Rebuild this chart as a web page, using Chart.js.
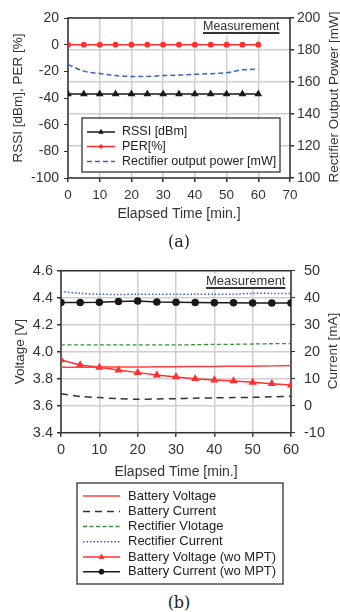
<!DOCTYPE html>
<html>
<head>
    <title>Measurement charts</title>
    <style>
        body { margin: 0; width: 340px; height: 612px; position: relative; overflow: hidden; background: #fff; font-family: 'Liberation Sans', Arial, sans-serif; }
        canvas { position: absolute; left: 0; }
        #chartA { top: 0; }
        #chartB { top: 250px; }
        .meas { position: absolute; background: #fff; color: #333; white-space: nowrap; line-height: 1;
                text-decoration: underline; text-decoration-thickness: 1.5px; text-underline-offset: 2px; padding: 0 1px 2px 1px; }
        .rtitle { position: absolute; color: #333; font-size: 13.5px; white-space: nowrap; transform: translate(-50%, -50%) rotate(-90deg); line-height: 1; }
        .cap { position: absolute; left: 0; width: 358px; text-align: center; font-family: 'DejaVu Serif', serif; font-size: 16px; color: #222; line-height: 1; }
    </style>
</head>
<body>
<canvas id="chartA" width="340" height="230"></canvas>
<canvas id="chartB" width="340" height="340"></canvas>

<span class="meas" style="left:202px; top:20px; font-size:12.5px;">Measurement</span>
<span class="meas" style="left:205px; top:274px; font-size:13px;">Measurement</span>
<div class="rtitle" style="left:334px; top:97px;">Rectifier Output Power [mW]</div>
<div class="rtitle" style="left:333px; top:351px;">Current [mA]</div>
<div class="cap" style="top:234px;">(a)</div>
<div class="cap" style="top:595px;">(b)</div>

<script src="https://cdn.jsdelivr.net/npm/chart.js"></script>
<script>
    // (a) RSSI / PER / rectifier power
    const timeA = [0, 5, 10, 15, 20, 25, 30, 35, 40, 45, 50, 55, 60];
    const rssi = [-37, -37, -37, -37, -37, -37, -37, -37, -37, -37, -37, -37, -37];
    const per = [0, 0, 0, 0, 0, 0, 0, 0, 0, 0, 0, 0, 0];
    const rectPower = [171, 166.8, 165.3, 164, 163.5, 163.5, 164, 164.3, 164.8, 165.2, 165.8, 167.6, 168];
    const ticksA = {xMax: 70, xStep: 10, yMin: -100, yMax: 20, yStep: 20, y2Min: 100, y2Max: 200, y2Step: 20};

    // (b) voltages / currents
    const timeB = [0, 5, 10, 15, 20, 25, 30, 35, 40, 45, 50, 55, 60];
    const battVolt = [3.885, 3.885, 3.886, 3.886, 3.887, 3.888, 3.889, 3.89, 3.891, 3.892, 3.893, 3.895, 3.897];
    const battCurr = [4.4, 3.4, 3.0, 2.6, 2.4, 2.5, 2.6, 2.8, 2.9, 3.0, 3.1, 3.3, 3.5];
    const rectVolt = [4.05, 4.05, 4.05, 4.05, 4.05, 4.05, 4.05, 4.052, 4.054, 4.055, 4.057, 4.059, 4.06];
    const rectCurr = [42.3, 41.6, 41.3, 41.2, 41.3, 41.3, 41.3, 41.3, 41.3, 41.3, 41.6, 41.6, 41.6];
    const battVoltWo = [3.939, 3.901, 3.884, 3.864, 3.845, 3.827, 3.813, 3.80, 3.79, 3.783, 3.773, 3.763, 3.753];
    const battCurrWo = [38.2, 38.2, 38.3, 38.6, 38.8, 38.4, 38.3, 38.2, 38.1, 38.1, 38.0, 38.0, 38.0];
    const ticksB = {xMax: 60, xStep: 10, yMin: 3.4, yMax: 4.6, yStep: 0.2, y2Min: -10, y2Max: 50, y2Step: 10};

    Chart.defaults.font.family = "'Liberation Sans', Arial, sans-serif";
    Chart.defaults.color = '#333';

    const pts = (xs, ys) => xs.map((x, i) => ({x: x, y: ys[i]}));
    const gridGray = '#cfcfcf';
    const txt = '#333';

    const framePlugin = {
        id: 'frame',
        beforeDatasetsDraw(chart) {
            const a = chart.chartArea;
            const ctx = chart.ctx;
            ctx.save();
            ctx.strokeStyle = '#333';
            ctx.lineWidth = 1.5;
            ctx.strokeRect(a.left, a.top, a.right - a.left, a.bottom - a.top);
            ctx.restore();
        }
    };

    const boxLegend = {
        id: 'boxLegend',
        afterDraw(chart, args, o) {
            const ctx = chart.ctx;
            ctx.save();
            ctx.fillStyle = '#fff';
            ctx.fillRect(o.left, o.top, o.width, o.height);
            ctx.strokeStyle = '#333';
            ctx.lineWidth = 1.3;
            ctx.strokeRect(o.left, o.top, o.width, o.height);
            chart.data.datasets.forEach((ds, i) => {
                const y = o.rows[i];
                ctx.setLineDash(ds.borderDash || []);
                ctx.strokeStyle = ds.borderColor;
                ctx.lineWidth = ds.borderWidth;
                ctx.beginPath();
                ctx.moveTo(o.lineStart, y);
                ctx.lineTo(o.lineEnd, y);
                ctx.stroke();
                ctx.setLineDash([]);
                if (ds.pointRadius > 0) {
                    ctx.fillStyle = ds.pointBackgroundColor;
                    ctx.strokeStyle = ds.pointBorderColor;
                    ctx.lineWidth = 1;
                    Chart.helpers.drawPoint(ctx, {pointStyle: ds.pointStyle, radius: ds.pointRadius - 0.5, borderWidth: 1, rotation: 0},
                        (o.lineStart + o.lineEnd) / 2, y);
                }
                ctx.fillStyle = '#222';
                ctx.font = o.font;
                ctx.textAlign = 'left';
                ctx.textBaseline = 'middle';
                ctx.fillText(ds.label, o.textX, y);
            });
            ctx.restore();
        }
    };

    new Chart(document.getElementById('chartA'), {
        type: 'line',
        data: {
            datasets: [
                {
                    label: 'RSSI [dBm]', data: pts(timeA, rssi), yAxisID: 'y',
                    borderColor: '#1a1a1a', backgroundColor: '#1a1a1a', borderWidth: 1.5,
                    pointStyle: 'triangle', pointRadius: 3, pointBackgroundColor: '#1a1a1a', pointBorderColor: '#1a1a1a'
                },
                {
                    label: 'PER[%]', data: pts(timeA, per), yAxisID: 'y',
                    borderColor: '#ff3030', backgroundColor: '#ff3030', borderWidth: 1.5,
                    pointStyle: 'circle', pointRadius: 2.2, pointBackgroundColor: '#ff3030', pointBorderColor: '#ff3030'
                },
                {
                    label: 'Rectifier output power [mW]', data: pts(timeA, rectPower), yAxisID: 'y2',
                    borderColor: '#3d63b8', backgroundColor: '#3d63b8', borderWidth: 1.5, borderDash: [5, 3],
                    pointRadius: 0, tension: 0.4, cubicInterpolationMode: 'monotone'
                }
            ]
        },
        options: {
            responsive: false, animation: false, devicePixelRatio: 1,
            layout: {padding: {top: 18, left: 0, right: 0, bottom: 0}},
            plugins: {
                legend: {display: false},
                tooltip: {enabled: false},
                boxLegend: {
                    left: 82, top: 118, width: 198, height: 54,
                    rows: [132, 146.5, 161.5], lineStart: 87, lineEnd: 115, textX: 122,
                    font: "12.5px 'Liberation Sans', Arial, sans-serif"
                }
            },
            scales: {
                x: {
                    type: 'linear', min: 0, max: ticksA.xMax,
                    ticks: {stepSize: ticksA.xStep, font: {size: 13.5}, color: txt, padding: 5},
                    grid: {color: gridGray, lineWidth: 1.5, tickColor: '#333', tickLength: 4},
                    border: {display: false},
                    title: {display: true, text: 'Elapsed Time [min.]', font: {size: 14}, color: txt, padding: {top: 0, bottom: 7.6}},
                    afterFit: s => { s.height = 52; }
                },
                y: {
                    position: 'left', min: ticksA.yMin, max: ticksA.yMax,
                    ticks: {stepSize: ticksA.yStep, font: {size: 14}, color: txt, padding: 5},
                    grid: {drawOnChartArea: false, tickColor: '#333', tickLength: 4},
                    border: {display: false},
                    title: {display: true, text: 'RSSI [dBm], PER [%]', font: {size: 13.5}, color: txt, padding: {top: 10, bottom: 0}},
                    afterFit: s => { s.width = 68; }
                },
                y2: {
                    position: 'right', min: ticksA.y2Min, max: ticksA.y2Max,
                    ticks: {stepSize: ticksA.y2Step, font: {size: 14}, color: txt, padding: 3},
                    grid: {color: gridGray, lineWidth: 1.5, tickColor: '#333', tickLength: 4},
                    border: {display: false},
                    afterFit: s => { s.width = 50; }
                }
            }
        },
        plugins: [framePlugin, boxLegend]
    });

    new Chart(document.getElementById('chartB'), {
        type: 'line',
        data: {
            datasets: [
                {
                    label: 'Battery Voltage', data: pts(timeB, battVolt), yAxisID: 'y',
                    borderColor: '#ff4040', backgroundColor: '#ff4040', borderWidth: 1.5, pointRadius: 0, tension: 0.3
                },
                {
                    label: 'Battery Current', data: pts(timeB, battCurr), yAxisID: 'y2',
                    borderColor: '#333', backgroundColor: '#333', borderWidth: 1.5, borderDash: [7, 5], pointRadius: 0, tension: 0.3
                },
                {
                    label: 'Rectifier Vlotage', data: pts(timeB, rectVolt), yAxisID: 'y',
                    borderColor: '#3a8f3a', backgroundColor: '#3a8f3a', borderWidth: 1.3, borderDash: [4, 2.5], pointRadius: 0, tension: 0.3
                },
                {
                    label: 'Rectifier Current', data: pts(timeB, rectCurr), yAxisID: 'y2',
                    borderColor: '#3b5fcf', backgroundColor: '#3b5fcf', borderWidth: 1.5, borderDash: [1.5, 2], pointRadius: 0, tension: 0.3
                },
                {
                    label: 'Battery Voltage (wo MPT)', data: pts(timeB, battVoltWo), yAxisID: 'y',
                    borderColor: '#ff3030', backgroundColor: '#ff3030', borderWidth: 1.5,
                    pointStyle: 'triangle', pointRadius: 3.2, pointBackgroundColor: '#ff3030', pointBorderColor: '#ff3030'
                },
                {
                    label: 'Battery Current (wo MPT)', data: pts(timeB, battCurrWo), yAxisID: 'y2',
                    borderColor: '#1a1a1a', backgroundColor: '#1a1a1a', borderWidth: 1.5,
                    pointStyle: 'circle', pointRadius: 3, pointBackgroundColor: '#1a1a1a', pointBorderColor: '#1a1a1a'
                }
            ]
        },
        options: {
            responsive: false, animation: false, devicePixelRatio: 1,
            layout: {padding: {top: 20.7, left: 0, right: 0, bottom: 105.3}},
            plugins: {
                legend: {display: false},
                tooltip: {enabled: false},
                boxLegend: {
                    left: 77, top: 233, width: 206, height: 101,
                    rows: [246, 261.5, 276.5, 291.7, 307, 321.7], lineStart: 83, lineEnd: 120, textX: 128,
                    font: "13px 'Liberation Sans', Arial, sans-serif"
                }
            },
            scales: {
                x: {
                    type: 'linear', min: 0, max: ticksB.xMax,
                    ticks: {stepSize: ticksB.xStep, font: {size: 14.5}, color: txt, padding: 4.6},
                    grid: {color: gridGray, lineWidth: 1.5, tickColor: '#333', tickLength: 4},
                    border: {display: false},
                    title: {display: true, text: 'Elapsed Time [min.]', font: {size: 14}, color: txt, padding: {top: 0, bottom: 3.9}},
                    afterFit: s => { s.height = 52; }
                },
                y: {
                    position: 'left', min: ticksB.yMin, max: ticksB.yMax,
                    ticks: {stepSize: ticksB.yStep, font: {size: 14.5}, color: txt, padding: 4,
                        callback: v => v.toFixed(1)},
                    grid: {color: gridGray, lineWidth: 1.5, tickColor: '#333', tickLength: 4},
                    border: {display: false},
                    title: {display: true, text: 'Voltage [V]', font: {size: 13.5}, color: txt, padding: {top: 12.6, bottom: 0}},
                    afterFit: s => { s.width = 61; }
                },
                y2: {
                    position: 'right', min: ticksB.y2Min, max: ticksB.y2Max,
                    ticks: {stepSize: ticksB.y2Step, font: {size: 14.5}, color: txt, padding: 9},
                    grid: {drawOnChartArea: false, tickColor: '#333', tickLength: 4},
                    border: {display: false},
                    afterFit: s => { s.width = 49; }
                }
            }
        },
        plugins: [framePlugin, boxLegend]
    });
</script>
</body>
</html>
